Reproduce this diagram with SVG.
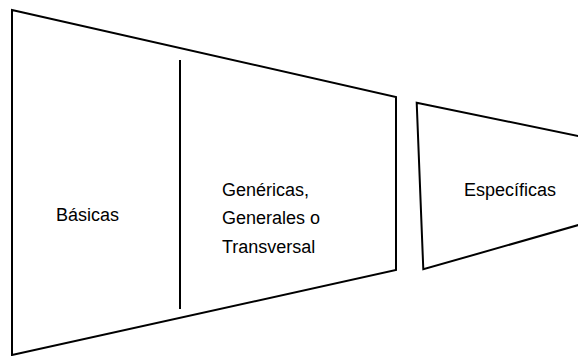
<svg xmlns="http://www.w3.org/2000/svg" width="578" height="356" viewBox="0 0 578 356">
<style>
.shape{fill:none;stroke:#000;stroke-width:2;stroke-linejoin:miter}
.lbl{font-family:"Liberation Sans",Arial,sans-serif;font-size:18px;fill:#000}
</style>
<rect width="578" height="356" fill="#fff"/>
<g id="node-main">
<polygon class="shape" points="12,10 396,97 396,270 12,355"/>
<text class="lbl" x="56" y="221">Básicas</text>
<text class="lbl" x="222" y="196">Genéricas,</text>
<text class="lbl" x="222" y="224">Generales o</text>
<text class="lbl" x="222" y="253">Transversal</text>
</g>
<g id="connectors">
<line class="shape" x1="180" y1="60" x2="180" y2="309"/>
</g>
<g id="node-especificas">
<polyline class="shape" points="582,136.8 416.7,102.7 423.3,269.3 582,224"/>
<text class="lbl" x="464" y="196">Específicas</text>
</g>
</svg>
